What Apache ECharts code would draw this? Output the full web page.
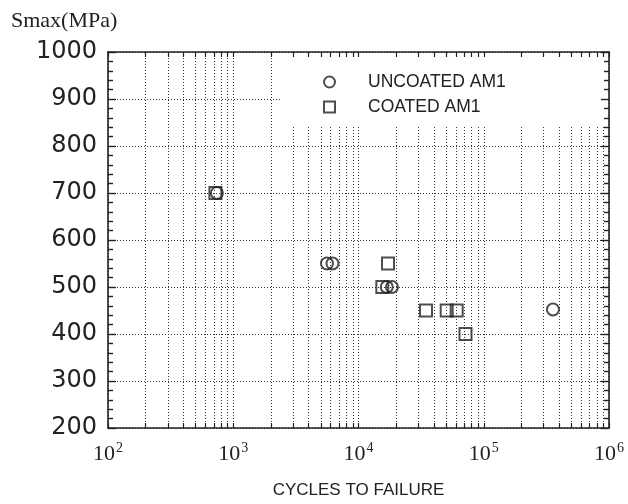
<!DOCTYPE html>
<html><head><meta charset="utf-8">
<script src="https://cdn.jsdelivr.net/npm/echarts@6/dist/echarts.min.js"></script>
<style>html,body{margin:0;padding:0;background:#fff}#c{width:628px;height:504px}</style>
</head><body><div id="c"></div>
<script>
// ---- data ----
const seriesNames = ['UNCOATED AM1', 'COATED AM1'];
const uncoatedCycles = [740, 5600, 6200, 16800, 18500, 357000];
const uncoatedStress = [700, 550, 550, 500, 500, 452];
const coatedCycles = [720, 17200, 15500, 34600, 50600, 60800, 71500];
const coatedStress = [700, 550, 500, 450, 450, 450, 400];
const xDecadeTicks = [100, 1000, 10000, 100000, 1000000];
const yMin = 200, yMax = 1000, yStep = 100;
const yTitle = 'Smax(MPa)';
const xTitle = 'CYCLES TO FAILURE';

// minor ticks 1..9 x each decade
const xGridTicks = [];
xDecadeTicks.forEach((d, i) => {
  if (i === xDecadeTicks.length - 1) { xGridTicks.push(d); return; }
  for (let k = 1; k <= 9; k++) xGridTicks.push(d * k);
});

const zip = (a, b) => a.map((v, i) => [v, b[i]]);
const ink = '#222';
const dotted = { type: [1, 2], color: '#333', width: 1 };

const chart = echarts.init(document.getElementById('c'), null, { renderer: 'canvas' });
const baseX = {
  type: 'log', logBase: 10, min: 100, max: 1000000,
  axisLine: { show: true, onZero: false, lineStyle: { color: ink, width: 1.6 } },
  axisTick: { show: true, inside: true, length: 5, customValues: xGridTicks, lineStyle: { color: ink, width: 1.2 } },
  minorTick: { show: false }, minorSplitLine: { show: false }
};
const baseY = {
  type: 'value', min: yMin, max: yMax, interval: yStep,
  axisLine: { show: true, onZero: false, lineStyle: { color: ink, width: 1.6 } },
  axisTick: { show: true, inside: true, length: 8, lineStyle: { color: ink, width: 1.4 } },
  minorTick: { show: true, splitNumber: 5, length: 5, lineStyle: { color: ink, width: 1.4 } },
  minorSplitLine: { show: false }
};
chart.setOption({
  animation: false,
  backgroundColor: '#fff',
  title: {
    text: yTitle, left: 6, top: 5,
    textStyle: { fontFamily: 'Liberation Serif', fontWeight: 'normal', fontSize: 22, color: ink }
  },
  grid: { left: 108, right: 19, top: 52, bottom: 68, containLabel: false },
  legend: {
    orient: 'vertical', left: 318, top: 68, itemWidth: 11, itemHeight: 11, itemGap: 7,
    selectedMode: false,
    data: [{ name: seriesNames[0], icon: 'circle' }, { name: seriesNames[1], icon: 'rect' }],
    textStyle: { fontFamily: 'Liberation Sans', fontSize: 17.5, color: ink, padding: [0, 0, 0, 28] }
  },
  graphic: [{
    type: 'rect', left: 280, top: 53, z: 1, silent: true,
    shape: { width: 327, height: 72 }, style: { fill: '#fff' }
  }],
  xAxis: [
    Object.assign({}, baseX, {
      position: 'bottom', z: 0,
      name: xTitle, nameLocation: 'middle', nameGap: 54,
      nameTextStyle: { fontFamily: 'Liberation Sans', fontSize: 17, color: ink },
      axisLabel: {
        customValues: xDecadeTicks, margin: 13,
        formatter: v => '{b|10}{s|' + Math.round(Math.log10(v)) + '}',
        rich: {
          b: { fontFamily: 'Liberation Serif', fontSize: 22, color: ink, lineHeight: 26 },
          s: { fontFamily: 'Liberation Serif', fontSize: 14, color: ink, lineHeight: 26, verticalAlign: 'top', padding: [0, 0, 9, 1] }
        }
      },
      splitLine: { show: true, lineStyle: dotted }
    }),
    Object.assign({}, baseX, {
      position: 'top', z: 5,
      axisLabel: { show: false }, splitLine: { show: false }
    })
  ],
  yAxis: [
    Object.assign({}, baseY, {
      position: 'left', z: 0,
      axisLabel: { fontFamily: 'DejaVu Sans', fontSize: 24, color: ink, margin: 11, formatter: v => String(v) },
      splitLine: { show: true, lineStyle: dotted }
    }),
    Object.assign({}, baseY, {
      position: 'right', z: 5,
      axisLabel: { show: false }, splitLine: { show: false }
    })
  ],
  series: [
    {
      name: seriesNames[0], type: 'scatter', xAxisIndex: 0, yAxisIndex: 0, z: 3,
      symbol: 'circle', symbolSize: 12,
      itemStyle: { color: 'rgba(0,0,0,0)', borderColor: ink, borderWidth: 2 },
      data: zip(uncoatedCycles, uncoatedStress)
    },
    {
      name: seriesNames[1], type: 'scatter', xAxisIndex: 0, yAxisIndex: 0, z: 3,
      symbol: 'rect', symbolSize: 12,
      itemStyle: { color: 'rgba(0,0,0,0)', borderColor: ink, borderWidth: 2 },
      data: zip(coatedCycles, coatedStress)
    }
  ]
});
</script></body></html>
